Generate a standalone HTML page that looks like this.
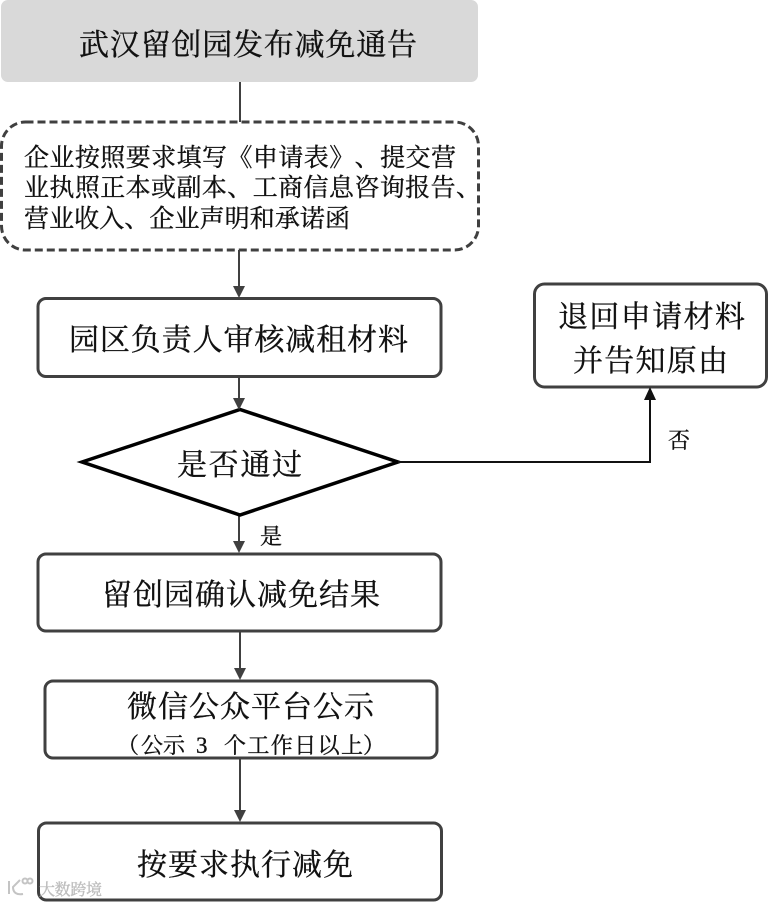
<!DOCTYPE html>
<html><head><meta charset="utf-8"><style>
html,body{margin:0;padding:0;background:#fff}
svg{display:block}
text{font-family:"Liberation Serif","Noto Serif CJK SC",serif;fill:#111;stroke:#111;stroke-width:.35px;text-spacing-trim:space-all;font-kerning:none;font-feature-settings:"palt" 0,"chws" 0,"kern" 0}
</style></head><body>
<svg width="768" height="902" viewBox="0 0 768 902" xmlns="http://www.w3.org/2000/svg">
<rect x="1" y="0" width="477" height="82" rx="7" fill="#d9d9d9"/>
<text x="79" y="55" font-size="30" textLength="338" lengthAdjust="spacing">武汉留创园发布减免通告</text>
<g fill="none" stroke="#404040">
<line x1="240" y1="82" x2="240" y2="122" stroke-width="2"/>
<rect x="1.5" y="122" width="477" height="128" rx="24" stroke-width="3" stroke-dasharray="8 4"/>
<line x1="239" y1="250" x2="239" y2="288" stroke-width="2"/>
<rect x="38" y="298.500" width="403" height="78" rx="8" stroke-width="3"/>
<line x1="239" y1="377" x2="239" y2="400" stroke-width="2"/>
<line x1="239" y1="515" x2="239" y2="542" stroke-width="2"/>
<rect x="38" y="554" width="403" height="77" rx="8" stroke-width="3"/>
<line x1="240" y1="632" x2="240" y2="670" stroke-width="2"/>
<rect x="45" y="681" width="392" height="77" rx="8" stroke-width="3"/>
<line x1="240" y1="759" x2="240" y2="812" stroke-width="2"/>
<rect x="38.500" y="823" width="403" height="77" rx="8" stroke-width="3"/>
<rect x="534.500" y="284" width="232" height="103" rx="10" stroke-width="3"/>
</g>
<polygon points="82,462 240,409.500 398,462 240,515" fill="#fff" stroke="#000" stroke-width="3.500"/>
<polyline points="398,462 650,462 650,398" fill="none" stroke="#111" stroke-width="2"/>
<g fill="#404040">
<polygon points="233,286 245,286 239,298"/>
<polygon points="233,398 245,398 239,410"/>
<polygon points="233,541 245,541 239,553"/>
<polygon points="234,668 246,668 240,680"/>
<polygon points="234,810 246,810 240,822"/>
</g>
<polygon points="644,400 656,400 650,387" fill="#111"/>
<g font-size="25">
<text x="24" y="166" textLength="432" lengthAdjust="spacing">企业按照要求填写《申请表》、提交营</text>
<text x="24" y="196" textLength="457" lengthAdjust="spacing">业执照正本或副本、工商信息咨询报告、</text>
<text x="24" y="227" textLength="326" lengthAdjust="spacing">营业收入、企业声明和承诺函</text>
</g>
<g font-size="30">
<text x="69" y="350" textLength="339" lengthAdjust="spacing">园区负责人审核减租材料</text>
<text x="558" y="327" textLength="187" lengthAdjust="spacing">退回申请材料</text>
<text x="573" y="371" textLength="155" lengthAdjust="spacing">并告知原由</text>
<text x="177" y="475" textLength="125" lengthAdjust="spacing">是否通过</text>
<text x="102" y="605" textLength="278" lengthAdjust="spacing">留创园确认减免结果</text>
<text x="127" y="717" textLength="247" lengthAdjust="spacing">微信公众平台公示</text>
<text x="137" y="875" textLength="216" lengthAdjust="spacing">按要求执行减免</text>
</g>
<g font-size="22">
<text x="117" y="753">（</text>
<text x="141" y="753" textLength="44" lengthAdjust="spacing">公示</text>
<text x="196" y="753" style="font-size:23px">3</text>
<text x="224" y="753" textLength="139" lengthAdjust="spacing">个工作日以上</text>
<text x="363" y="753">）</text>
</g>
<text x="260" y="544" font-size="22">是</text>
<text x="668" y="448" font-size="22">否</text>
<g fill="none" stroke="#c4c4c4" stroke-width="2">
<path d="M9 881v13M20 880l-7 7c0 6 4 8 10 7"/>
<circle cx="25" cy="881" r="2.500"/><circle cx="30" cy="881" r="2.500"/>
</g>
<text x="39" y="895" font-size="16" textLength="63" lengthAdjust="spacing" style="fill:#bdbdbd;stroke:#bdbdbd">大数跨境</text>
</svg>
</body></html>
